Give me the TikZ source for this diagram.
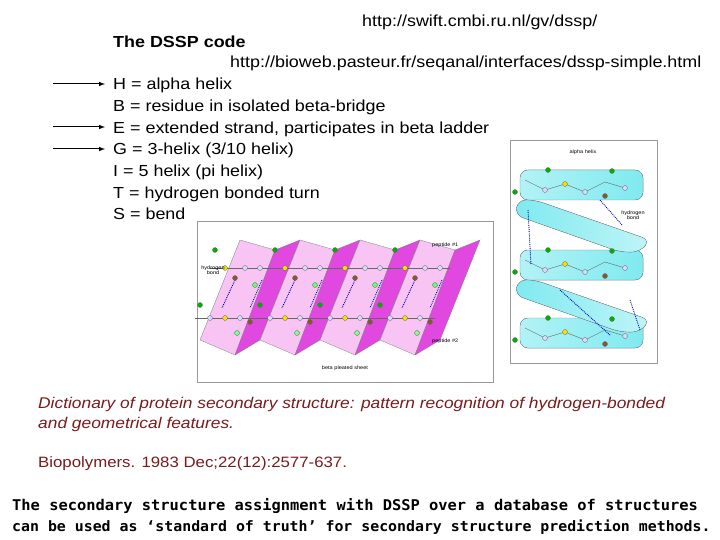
\documentclass[tikz,border=0pt]{standalone}
\usepackage{fontspec}
\setmainfont{Liberation Sans}[FakeStretch=1.12]
\newfontfamily\monob{DejaVu Sans Mono}[FakeStretch=1.04]
\definecolor{dred}{HTML}{7A1A1A}
\definecolor{lpink}{HTML}{F8C4F4}
\definecolor{mag}{HTML}{E048E0}
\definecolor{cyanb}{HTML}{7FEAF0}
\begin{document}
\begin{tikzpicture}[x=1pt,y=-1pt,
  txt/.style={anchor=base west,inner sep=0,font=\fontsize{16}{16}\selectfont},
  arr/.style={-latex,line width=1pt},
  atom/.style={circle,draw=black!60,line width=0.3pt,fill=#1,minimum size=5pt,inner sep=0},
  tiny/.style={font=\fontsize{5}{5.5}\selectfont,inner sep=0,align=center},
  hb/.style={densely dotted,blue!70!black,line width=0.9pt}]
\useasboundingbox (0,0) rectangle (720,540);
\node[txt,font=\fontsize{16}{16}\selectfont] (u1) at (362,27) {http://swift.cmbi.ru.nl/gv/dssp/};
\node[txt,font=\bfseries\fontsize{16}{16}\selectfont] (title) at (113,48) {The DSSP code};
\node[txt,font=\fontsize{16}{16}\selectfont] (u2) at (230,68) {http://bioweb.pasteur.fr/seqanal/interfaces/dssp-simple.html};
\node[txt] (H) at (113,90) {H = alpha helix};
\node[txt] (B) at (113,112) {B = residue in isolated beta-bridge};
\node[txt] (E) at (113,134) {E = extended strand, participates in beta ladder};
\node[txt] (G) at (113,155) {G = 3-helix (3/10 helix)};
\node[txt] (I) at (113,177) {I = 5 helix (pi helix)};
\node[txt] (T) at (113,199) {T = hydrogen bonded turn};
\node[txt] (S) at (113,220) {S = bend};
\coordinate (a1) at (53,84); \coordinate (a3) at (53,127); \coordinate (a4) at (53,149);
\draw[arr] (a1) -- (105,84);
\draw[arr] (a3) -- (105,127);
\draw[arr] (a4) -- (105,149);
% beta sheet
\node[draw=black!40,minimum width=296pt,minimum height=161pt,anchor=north west,inner sep=0] (beta) at (197,221) {};
\foreach \a in {240,300,360,420}{
  \fill[lpink,draw=black!50,line width=0.3pt] (\a,240) -- (\a+35,250) -- (\a-5,355) -- (\a-40,340) -- cycle;
  \fill[mag,draw=black!50,line width=0.3pt] (\a+35,250) -- (\a+60,240) -- (\a+20,340) -- (\a-5,355) -- cycle;
  \draw[black!60,line width=0.4pt] (\a-30,268) -- (\a+30,268);
  \draw[black!60,line width=0.4pt] (\a-45,318) -- (\a+15,318);
  \draw[hb] (\a-5,280) -- (\a-18,308);
  \draw[hb] (\a+22,280) -- (\a+10,308);
  \node[atom=green!70!black] at (\a-25,250) {};
  \node[atom=brown!70!black] at (\a-5,278) {};
  \node[atom=yellow!80!orange] at (\a-15,268) {};
  \node[atom=blue!15] at (\a+5,268) {};
  \node[atom=blue!15] at (\a+20,268) {};
  \node[atom=green!60] at (\a+15,285) {};
  \node[atom=green!70!black] at (\a-40,305) {};
  \node[atom=blue!15] at (\a-30,318) {};
  \node[atom=yellow!80!orange] at (\a-15,318) {};
  \node[atom=blue!15] at (\a,318) {};
  \node[atom=brown!70!black] at (\a+10,322) {};
  \node[atom=green!50] at (\a-3,333) {};
}
\node[tiny,anchor=west] (p1) at (432,245) {peptide \#1};
\node[tiny,anchor=west] (p2) at (432,341) {peptide \#2};
\node[tiny] (hbl) at (213,270) {hydrogen\\bond};
\node[tiny] (bps) at (345,368) {beta pleated sheet};
% alpha helix
\node[draw=black!40,minimum width=147pt,minimum height=223pt,anchor=north west,inner sep=0] (alpha) at (510,140) {};
\node[tiny] (ah) at (583,152) {alpha helix};
\foreach \y in {170,250,318}{
  \fill[left color=cyanb!60,right color=cyanb,draw=black!50,line width=0.3pt,rounded corners=8pt] (520,\y) rectangle (643,\y+30);
}
\foreach \y in {200,280}{
  \fill[left color=cyanb,right color=cyanb!50,draw=black!50,line width=0.3pt,rounded corners=8pt] (518,\y) -- (535,\y) -- (650,\y+40) -- (640,\y+52) -- (620,\y+52) -- (515,\y+15) -- cycle;
}
\foreach \y in {172,252,320}{
  \draw[black!60,line width=0.4pt] (525,\y+8) -- (545,\y+18) -- (565,\y+12) -- (585,\y+20) -- (605,\y+10) -- (625,\y+16);
  \node[atom=green!70!black] at (548,\y-2) {};
  \node[atom=green!70!black] at (612,\y-1) {};
  \node[atom=blue!15] at (545,\y+18) {};
  \node[atom=yellow!80!orange] at (565,\y+12) {};
  \node[atom=blue!15] at (585,\y+20) {};
  \node[atom=brown!70!black] at (605,\y+24) {};
  \node[atom=blue!15] at (625,\y+16) {};
  \node[atom=green!70!black] at (515,\y+20) {};
}
\draw[hb] (528,210) -- (531,265);
\draw[hb] (600,200) -- (622,225);
\draw[hb] (560,290) -- (610,335);
\draw[hb] (630,300) -- (640,330);
\node[tiny] (hb2) at (633,215) {hydrogen\\bond};
% reference text
\node[txt,font=\itshape\fontsize{15.5}{15.5}\selectfont,text=dred] (d1) at (38,408) {Dictionary of protein secondary structure: pattern recognition of hydrogen-bonded};
\node[txt,font=\itshape\fontsize{15.5}{15.5}\selectfont,text=dred] (d2) at (38,428) {and geometrical features.};
\node[txt,font=\fontsize{15}{15}\selectfont,text=dred] (bio) at (38,467) {Biopolymers. 1983 Dec;22(12):2577-637.};
\node[txt,font=\monob\bfseries\fontsize{14.8}{15}\selectfont] (c1) at (12,510) {The secondary structure assignment with DSSP over a database of structures};
\node[txt,font=\monob\bfseries\fontsize{14.3}{15}\selectfont] (c2) at (12,531) {can be used as ‘standard of truth’ for secondary structure prediction methods.};
\end{tikzpicture}
\end{document}
